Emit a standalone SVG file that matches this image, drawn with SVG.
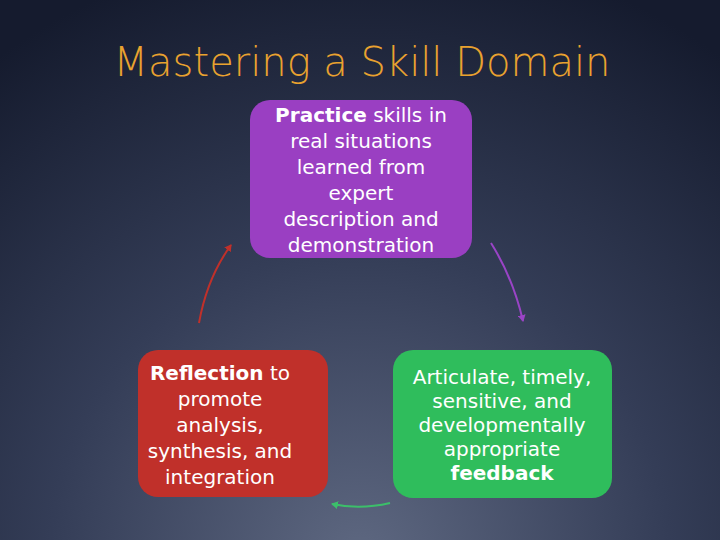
<svg xmlns="http://www.w3.org/2000/svg" width="720" height="540" viewBox="0 0 720 540">
<defs>
<radialGradient id="bg" cx="360" cy="560" r="620" gradientUnits="userSpaceOnUse">
<stop offset="0" stop-color="#5e6881"/><stop offset="0.5" stop-color="#343d57"/><stop offset="1" stop-color="#151b2e"/>
</radialGradient>
<marker id="mr" markerWidth="8" markerHeight="8" refX="6" refY="4" orient="auto" markerUnits="userSpaceOnUse"><path d="M0,0 L7,4 L0,8 Z" fill="#c0302a"/></marker>
<marker id="mp" markerWidth="8" markerHeight="8" refX="6" refY="4" orient="auto" markerUnits="userSpaceOnUse"><path d="M0,0 L7,4 L0,8 Z" fill="#9a44c6"/></marker>
<marker id="mg" markerWidth="8" markerHeight="8" refX="6" refY="4" orient="auto" markerUnits="userSpaceOnUse"><path d="M0,0 L7,4 L0,8 Z" fill="#3cbf6a"/></marker>
</defs>
<style>
.t{font-family:"DejaVu Sans",sans-serif;font-size:20px;fill:#fff;text-anchor:middle}
.b{font-weight:bold}
.c{fill:none;stroke-width:2}
</style>
<rect width="720" height="540" fill="url(#bg)"/>
<text x="362" y="76" font-family="'DejaVu Sans',sans-serif" font-size="40" fill="#e9a22f" text-anchor="middle" font-weight="300">Mastering a Skill Domain</text>
<g id="connectors">
<path class="c" stroke="#c0302a" d="M199,323 Q207,278 231,245" marker-end="url(#mr)"/>
<path class="c" stroke="#9a44c6" d="M491,243 Q513,278 523,321" marker-end="url(#mp)"/>
<path class="c" stroke="#3cbf6a" d="M390,503 Q360,510 332,504" marker-end="url(#mg)"/>
</g>
<g id="practice">
<rect x="250" y="100" width="222" height="158" rx="20" fill="#9a3fc2"/>
<text class="t" x="361" y="122"><tspan class="b">Practice</tspan> skills in</text>
<text class="t" x="361" y="148">real situations</text>
<text class="t" x="361" y="174">learned from</text>
<text class="t" x="361" y="200">expert</text>
<text class="t" x="361" y="226">description and</text>
<text class="t" x="361" y="252">demonstration</text>
</g>
<g id="reflection">
<rect x="138" y="350" width="190" height="147" rx="20" fill="#c0302a"/>
<text class="t" x="220" y="380"><tspan class="b">Reflection</tspan> to</text>
<text class="t" x="220" y="406">promote</text>
<text class="t" x="220" y="432">analysis,</text>
<text class="t" x="220" y="458">synthesis, and</text>
<text class="t" x="220" y="484">integration</text>
</g>
<g id="feedback">
<rect x="393" y="350" width="219" height="148" rx="20" fill="#2fbd5c"/>
<text class="t" x="502" y="384">Articulate, timely,</text>
<text class="t" x="502" y="408">sensitive, and</text>
<text class="t" x="502" y="432">developmentally</text>
<text class="t" x="502" y="456">appropriate</text>
<text class="t b" x="502" y="480">feedback</text>
</g>
</svg>
